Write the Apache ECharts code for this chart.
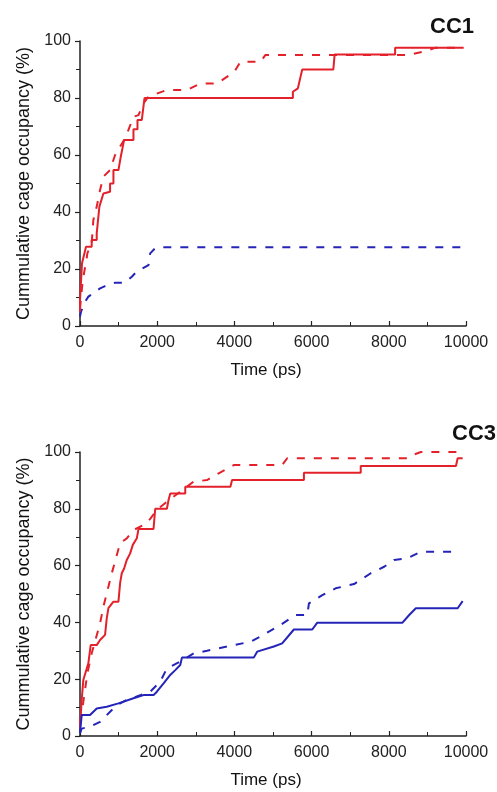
<!DOCTYPE html>
<html>
<head>
<meta charset="utf-8">
<script src="https://cdn.jsdelivr.net/npm/echarts@6/dist/echarts.min.js"></script>
<style>
  html, body { margin: 0; padding: 0; background: #fff; }
  #chart { width: 497px; height: 792px; }
</style>
</head>
<body>
<div id="chart"></div>
<script>
// values, [time (ps), occupancy (%)]
var cc1RedSolid = [[0,5],[0,9],[52,22],[156,27.8],[303,27.8],[303,30.2],[433,30.2],[433,32.5],[502,41.9],[606,46.5],[779,47.1],[779,50],[866,50],[866,54.7],[996,54.7],[1056,59.4],[1143,65.3],[1385,65.3],[1385,69],[1489,69],[1489,72.3],[1602,72.3],[1671,80],[5515,80],[5515,82.2],[5645,83.4],[5714,87.5],[5758,90],[6563,90],[6597,95.3],[8164,95.3],[8164,97.6],[9940,97.6]];
var cc1RedDash = [[0,6],[70,16],[173,23.7],[190,25.5],[303,29],[346,37.2],[433,41.9],[520,47.7],[606,52.4],[779,54.7],[909,60],[1169,65.9],[1255,68.8],[1385,73.4],[1515,74],[1645,78.1],[1775,80.5],[2251,82.8],[2771,82.8],[3117,85.1],[3550,85.1],[4000,89.2],[4156,92.7],[4675,92.7],[4805,95.1],[8485,95.1],[8918,96.3],[9200,97.6],[9900,97.6]];
var cc1BlueDash = [[0,3.3],[26,5],[130,8.5],[216,10.3],[520,13.2],[649,14],[909,15.2],[1169,15.2],[1342,17.3],[1472,19.1],[1775,21.4],[1818,25.5],[1948,27.3],[2078,27.6],[9870,27.6]];

var cc3RedSolid = [[0,3],[44,12.7],[86,19.7],[216,25.6],[277,32],[433,32],[520,33.8],[649,35.6],[693,41.4],[736,45],[866,47.3],[996,47.3],[1039,53.8],[1082,57.3],[1143,59],[1212,62],[1299,64.3],[1368,67.3],[1472,69.6],[1515,72.9],[1905,72.9],[1948,80],[2251,80],[2294,83.1],[2338,85.4],[2727,85.4],[2727,87.8],[3896,87.8],[3940,90.1],[5801,90.1],[5801,92.7],[7273,92.7],[7273,95.1],[9740,95.1],[9784,97.8],[9913,97.8]];
var cc3RedDash = [[0,5],[44,8],[130,16.2],[190,22],[303,29.1],[520,39.7],[606,45.5],[693,50.2],[823,57.3],[1039,67.9],[1212,69.6],[1385,72.5],[1732,74.9],[1991,79.6],[2251,82.5],[2771,87.8],[2944,89.6],[3290,90.1],[3593,92.5],[3983,95.4],[5238,95.4],[5368,97.8],[8485,97.8],[8615,98.9],[8831,100],[9913,100]];
var cc3BlueSolid = [[0,1],[44,7.4],[260,7.4],[433,9.7],[693,10.3],[996,11.5],[1385,13.3],[1645,14.4],[1905,14.4],[1991,15.6],[2165,18.5],[2338,21.5],[2468,23.2],[2597,25],[2641,27.6],[4502,27.6],[4589,29.7],[5022,31.5],[5238,32.6],[5541,37.5],[6017,37.5],[6147,39.9],[8355,39.9],[8528,42.6],[8701,45],[9784,45],[9913,47.5]];
var cc3BlueDash = [[0,1],[43,2.6],[260,3.3],[520,5],[953,10.9],[1212,12.7],[1818,15.6],[2078,19.1],[2251,23.8],[2597,26.2],[2944,29.1],[3290,30],[3983,32],[4416,33.2],[4675,35],[5195,39.1],[5584,42.6],[5888,42.6],[5931,46.7],[6277,49.6],[6623,52],[7100,53.5],[7532,57.3],[7879,59.6],[8138,62],[8485,62.6],[8831,64.9],[9697,64.9]];

var panelTitles = ['CC1', 'CC3'];
var xName = 'Time (ps)';
var yName = 'Cummulative cage occupancy (%)';

var RED = '#e3212b';
var BLUE = '#2424b8';
var FONT = 'Liberation Sans, Arial, sans-serif';

function plain(v) { return String(v); }

function xAx(idx) {
    return {
        gridIndex: idx,
        type: 'value',
        min: 0, max: 10000, interval: 2000,
        name: xName,
        nameLocation: 'middle',
        nameGap: 36,
        nameTextStyle: { fontFamily: FONT, fontSize: 17, color: '#111', padding: [0, 14, 0, 0] },
        axisLine: { lineStyle: { color: '#222', width: 1.5 } },
        axisTick: { inside: true, length: 5, lineStyle: { color: '#222', width: 1.2 } },
        minorTick: { show: true, splitNumber: 2, length: 4, lineStyle: { color: '#222', width: 1 } },
        axisLabel: { fontFamily: FONT, fontSize: 16, color: '#222', margin: 9, formatter: plain },
        splitLine: { show: false }
    };
}
function yAx(idx) {
    return {
        gridIndex: idx,
        type: 'value',
        min: 0, max: 100, interval: 20,
        name: yName,
        nameLocation: 'middle',
        nameGap: 46,
        nameTextStyle: { fontFamily: FONT, fontSize: 18, color: '#111' },
        axisLine: { show: true, lineStyle: { color: '#222', width: 1.5 } },
        axisTick: { show: true, length: 5, lineStyle: { color: '#222', width: 1.2 } },
        minorTick: { show: true, splitNumber: 2, length: 4, lineStyle: { color: '#222', width: 1 } },
        axisLabel: { fontFamily: FONT, fontSize: 16, color: '#222', margin: 9, formatter: plain },
        splitLine: { show: false }
    };
}
function line(data, idx, color, dashed) {
    return {
        type: 'line',
        xAxisIndex: idx, yAxisIndex: idx,
        data: data,
        symbol: 'none',
        animation: false,
        lineStyle: { color: color, width: 2, type: dashed ? [8, 9] : 'solid' }
    };
}

var myChart = echarts.init(document.getElementById('chart'));
myChart.setOption({
    backgroundColor: '#fff',
    animation: false,
    title: [
        { text: panelTitles[0], left: 425, top: 11, textStyle: { fontFamily: FONT, fontSize: 22, fontWeight: 'bold', color: '#111' } },
        { text: panelTitles[1], left: 447, top: 418, textStyle: { fontFamily: FONT, fontSize: 22, fontWeight: 'bold', color: '#111' } }
    ],
    grid: [
        { left: 80, top: 41, width: 386, height: 285 },
        { left: 80, top: 452, width: 386, height: 284 }
    ],
    xAxis: [xAx(0), xAx(1)],
    yAxis: [yAx(0), yAx(1)],
    series: [
        line(cc1RedDash, 0, RED, true),
        line(cc1BlueDash, 0, BLUE, true),
        line(cc1RedSolid, 0, RED, false),
        line(cc3RedDash, 1, RED, true),
        line(cc3BlueDash, 1, BLUE, true),
        line(cc3RedSolid, 1, RED, false),
        line(cc3BlueSolid, 1, BLUE, false)
    ]
});
</script>
</body>
</html>
